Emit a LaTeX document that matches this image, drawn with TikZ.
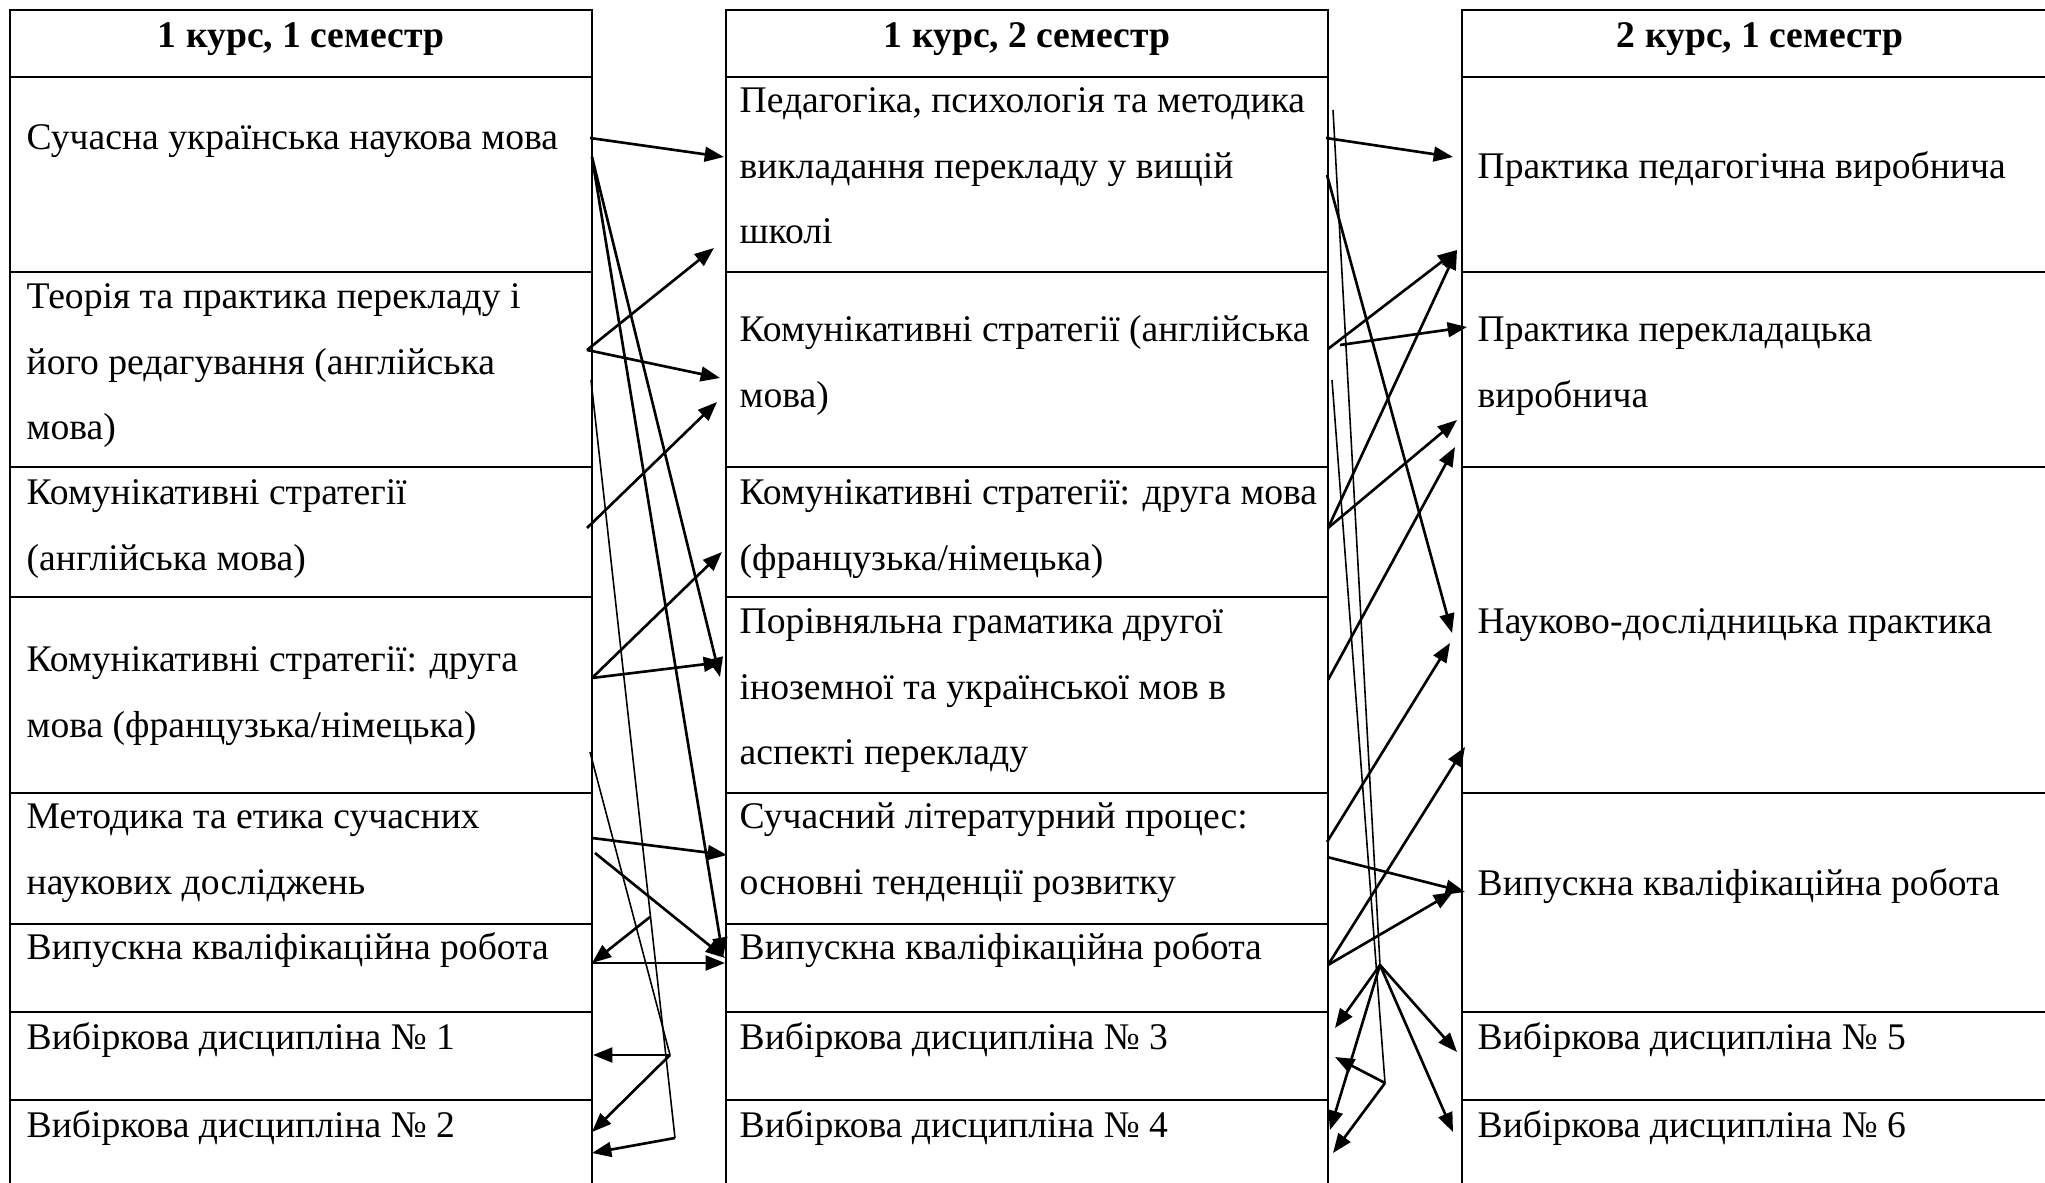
\documentclass[tikz,border=0pt]{standalone}
\usepackage{fontspec}
\setmainfont{Liberation Serif}
\usetikzlibrary{arrows.meta}
\newcommand{\cellfont}{\fontsize{10.7}{18.5}\selectfont}
\newcommand{\rows}[1]{\begin{tabular}[t]{@{}l@{}}#1\end{tabular}}

\begin{document}
\begin{tikzpicture}[
    x=0.01cm, y=-0.01cm,
    cell/.style={anchor=base west, inner sep=0pt, font=\cellfont},
    head/.style={anchor=base, inner sep=0pt, font=\cellfont\bfseries},
    rule/.style={line width=0.8pt},
    arr/.style={-{Triangle[length=5.5pt, width=4.2pt]}, line width=0.75pt},
    slim/.style={line width=0.45pt}
]
\useasboundingbox (0,0) rectangle (2045,1183);

% Table grid
\foreach \xa/\xb in {10/592, 726/1328} {
    \draw[rule] (\xa,1183) -- (\xa,10) -- (\xb,10) -- (\xb,1183);
    \foreach \y in {77,272,467,597,793,924,1012,1100}
        \draw[rule] (\xa,\y) -- (\xb,\y);
}
\draw[rule] (1462,1183) -- (1462,10) -- (2045,10);
\foreach \y in {77,272,467,793,1012,1100}
    \draw[rule] (1462,\y) -- (2045,\y);

% Headers
\node[head] (h1) at (301,48) {1 курс, 1 семестр};
\node[head] (h2) at (1027,48) {1 курс, 2 семестр};
\node[head] (h3) at (1760,48) {2 курс, 1 семестр};

% 1 курс, 1 семестр
\node[cell] (a1) at (26,150) {Сучасна українська наукова мова};
\node[cell] (a2) at (26,309) {\rows{Теорія та практика перекладу і\\його редагування (англійська\\мова)}};
\node[cell] (a3) at (26,505) {\rows{Комунікативні стратегії\\(англійська мова)}};
\node[cell] (a4) at (26,672) {\rows{Комунікативні стратегії: друга\\мова (французька/німецька)}};
\node[cell] (a5) at (26,829) {\rows{Методика та етика сучасних\\наукових досліджень}};
\node[cell] (a6) at (26,960) {Випускна кваліфікаційна робота};
\node[cell] (a7) at (26,1050) {Вибіркова дисципліна № 1};
\node[cell] (a8) at (26,1137) {Вибіркова дисципліна № 2};

% 1 курс, 2 семестр
\node[cell] (b1) at (739,113) {\rows{Педагогіка, психологія та методика\\викладання перекладу у вищій\\школі}};
\node[cell] (b2) at (739,342) {\rows{Комунікативні стратегії (англійська\\мова)}};
\node[cell] (b3) at (739,505) {\rows{Комунікативні стратегії: друга мова\\(французька/німецька)}};
\node[cell] (b4) at (739,634) {\rows{Порівняльна граматика другої\\іноземної та української мов в\\аспекті перекладу}};
\node[cell] (b5) at (739,829) {\rows{Сучасний літературний процес:\\основні тенденції розвитку}};
\node[cell] (b6) at (739,960) {Випускна кваліфікаційна робота};
\node[cell] (b7) at (739,1050) {Вибіркова дисципліна № 3};
\node[cell] (b8) at (739,1137) {Вибіркова дисципліна № 4};

% 2 курс, 1 семестр
\node[cell] (c1) at (1477,179) {Практика педагогічна виробнича};
\node[cell] (c2) at (1477,342) {\rows{Практика перекладацька\\виробнича}};
\node[cell] (c3) at (1477,634) {Науково-дослідницька практика};
\node[cell] (c4) at (1477,896) {Випускна кваліфікаційна робота};
\node[cell] (c5) at (1477,1050) {Вибіркова дисципліна № 5};
\node[cell] (c6) at (1477,1137) {Вибіркова дисципліна № 6};

% Arrow ends, first gap
\coordinate (a1x) at (590,138);  \coordinate (a1y) at (592,157);
\coordinate (a2x) at (587,350);  \coordinate (a2y) at (591,380);
\coordinate (a3x) at (587,528);
\coordinate (a4x) at (592,678);  \coordinate (a4y) at (590,752);
\coordinate (a5x) at (592,838);  \coordinate (a5y) at (595,853);
\coordinate (a6x) at (592,963);
\coordinate (a7x) at (593,1055);
\coordinate (a8x) at (592,1132); \coordinate (a8y) at (592,1153);
\coordinate (b1w) at (724,157);  \coordinate (b1v) at (714,248);
\coordinate (b2w) at (720,378);  \coordinate (b2v) at (717,402);
\coordinate (b3w) at (722,552);
\coordinate (b4w) at (723,662);  \coordinate (b4v) at (720,677);
\coordinate (b5w) at (727,855);
\coordinate (b6w) at (723,957);  \coordinate (b6v) at (725,958); \coordinate (b6u) at (725,963);
\coordinate (k1) at (650,917);   \coordinate (k2) at (675,1138); \coordinate (k3) at (670,1055);

% Arrow ends, second gap
\coordinate (b1x) at (1326,138); \coordinate (b1y) at (1327,175); \coordinate (b1z) at (1333,110);
\coordinate (b2x) at (1328,349); \coordinate (b2y) at (1340,345); \coordinate (b2z) at (1332,380);
\coordinate (b3x) at (1328,528);
\coordinate (b4x) at (1328,680);
\coordinate (b5x) at (1327,842); \coordinate (b5y) at (1327,857);
\coordinate (b6x) at (1328,965);
\coordinate (b7x) at (1335,1028); \coordinate (b7y) at (1335,1057);
\coordinate (b8x) at (1330,1130); \coordinate (b8y) at (1333,1153);
\coordinate (c1w) at (1453,157); \coordinate (c1v) at (1457,250);
\coordinate (c2w) at (1467,327); \coordinate (c2v) at (1457,420); \coordinate (c2u) at (1455,447);
\coordinate (c3w) at (1452,633); \coordinate (c3v) at (1450,643); \coordinate (c3u) at (1465,747);
\coordinate (c4w) at (1465,892); \coordinate (c4v) at (1453,892);
\coordinate (c5w) at (1457,1052);
\coordinate (c6w) at (1453,1132);
\coordinate (m1) at (1380,965);  \coordinate (m2) at (1385,1083);

% Links
\draw[slim] (a2y) -- (k2);
\draw[slim] (a4y) -- (k3);
\draw[slim] (b1z) -- (m1);
\draw[slim] (b2z) -- (m2);
\foreach \from/\to in {a1x/b1w, a1y/b4v, a1y/b6w, a2x/b1v, a2x/b2w, a3x/b2v, a4x/b3w, a4x/b4w,
                       a5x/b5w, a5y/b6v, a6x/b6u, k1/a6x, k2/a8y, k3/a7x, k3/a8x,
                       b1x/c1w, b1y/c3w, b2x/c1v, b2y/c2w, b3x/c1v, b3x/c2v, b4x/c2u, b5x/c3v,
                       b5y/c4w, b6x/c3u, b6x/c4v, m1/b7x, m1/b8x, m1/c5w, m1/c6w, m2/b7y, m2/b8y} {
    \draw[arr] (\from) -- (\to);
}

\end{tikzpicture}
\end{document}
